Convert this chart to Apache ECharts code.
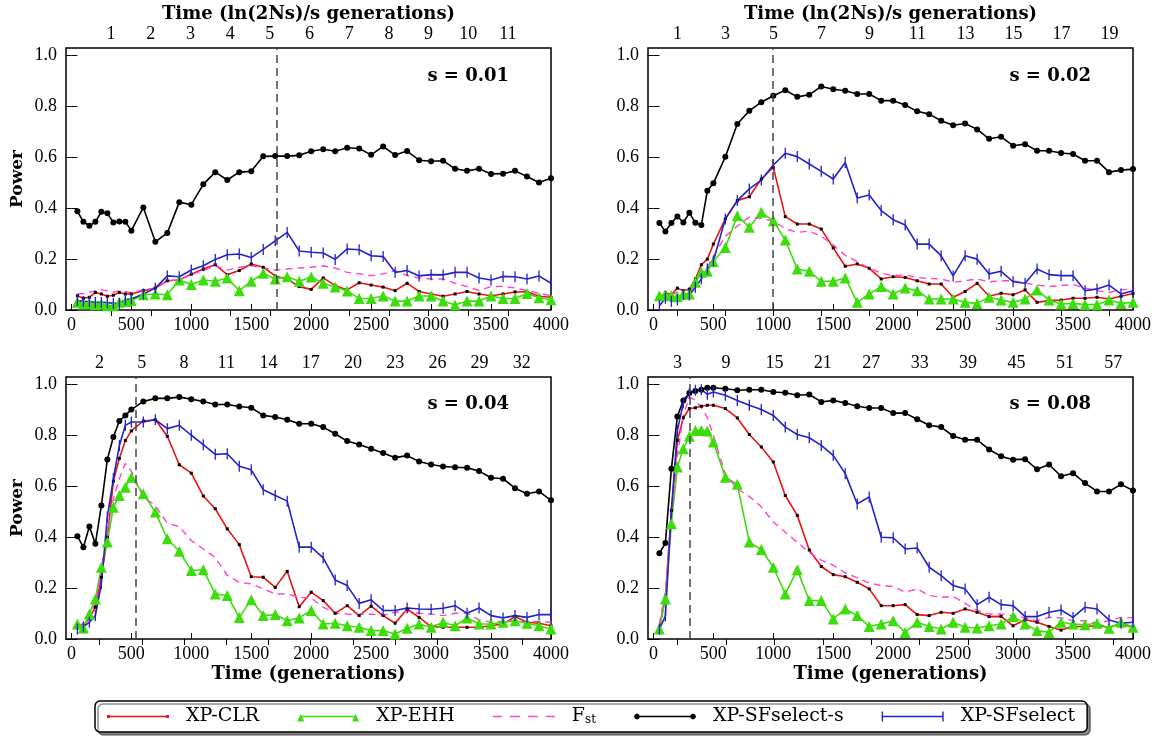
<!DOCTYPE html>
<html>
<head>
<meta charset="utf-8">
<script src="https://cdn.jsdelivr.net/npm/echarts@6/dist/echarts.min.js"></script>
<style>
  html, body { margin: 0; padding: 0; background: #fff; }
  #chart { width: 1161px; height: 740px; }
</style>
</head>
<body>
<div id="chart"></div>
<script>
// generations at which power was measured
var gens = [50, 100, 150, 200, 250, 300, 350, 400, 450, 500,
  600, 700, 800, 900, 1000, 1100, 1200, 1300, 1400, 1500,
  1600, 1700, 1800, 1900, 2000, 2100, 2200, 2300, 2400, 2500,
  2600, 2700, 2800, 2900, 3000, 3100, 3200, 3300, 3400, 3500,
  3600, 3700, 3800, 3900, 4000];

var xTicks = [0, 500, 1000, 1500, 2000, 2500, 3000, 3500, 4000];
var yTicks = [0, 0.2, 0.4, 0.6, 0.8, 1.0];

// s = 0.01
var clrS01 = [0.056,0.046,0.050,0.069,0.063,0.054,0.058,0.069,0.063,0.063, 0.076,0.086,0.115,0.118,0.141,0.161,0.178,0.139,0.155,0.181, 0.168,0.134,0.122,0.092, 0.081,0.126,0.096,0.079,0.107,0.098,0.090,0.076,0.105,0.073, 0.063,0.054,0.063,0.073,0.063,0.056,0.063,0.071,0.072,0.054,0.050];
var ehhS01 = [0.030,0.024,0.026,0.021,0.024,0.017,0.017,0.030,0.033,0.037, 0.060,0.063,0.060,0.118,0.100,0.118,0.113,0.126,0.076,0.113, 0.144,0.122,0.131,0.113, 0.130,0.105,0.090,0.075,0.045,0.045,0.055,0.035,0.035,0.055, 0.055,0.035,0.020,0.035,0.035,0.055,0.045,0.045,0.065,0.048,0.040];
var fstS01 = [0.063,0.065,0.070,0.075,0.080,0.075,0.070,0.075,0.072,0.068, 0.079,0.086,0.115,0.118,0.139,0.155,0.174,0.157,0.168,0.174, 0.165,0.157,0.161,0.165, 0.168,0.174,0.165,0.148,0.142,0.135,0.142,0.155,0.135,0.126, 0.122,0.122,0.105,0.092,0.076,0.092,0.093,0.087,0.076,0.066,0.057];
var sfsS01 = [0.388,0.347,0.331,0.347,0.386,0.380,0.344,0.348,0.347,0.312, 0.403,0.268,0.303,0.424,0.414,0.494,0.542,0.511,0.542,0.545, 0.604,0.605,0.605,0.608, 0.624,0.632,0.624,0.638,0.635,0.610,0.643,0.609,0.625,0.589, 0.585,0.587,0.555,0.547,0.555,0.535,0.536,0.547,0.525,0.501,0.518];
var sfS01 = [0.037,0.034,0.033,0.030,0.030,0.029,0.026,0.026,0.041,0.043, 0.063,0.086,0.134,0.131,0.157,0.174,0.199,0.217,0.220,0.206, 0.238,0.272,0.305,0.232, 0.227,0.224,0.199,0.240,0.237,0.213,0.210,0.148,0.155,0.134, 0.139,0.138,0.148,0.148,0.126,0.118,0.132,0.131,0.122,0.134,0.105];

// s = 0.02
var clrS02 = [0.047,0.069,0.060,0.086,0.076,0.082,0.122,0.178,0.200,0.259, 0.358,0.430,0.445,0.515,0.561,0.367,0.338,0.338,0.318,0.244, 0.172,0.181,0.164,0.122, 0.131,0.128,0.115,0.102,0.102,0.050,0.073,0.105,0.054,0.066, 0.060,0.079,0.030,0.037,0.039,0.046,0.046,0.050,0.043,0.054,0.065];
var ehhS02 = [0.056,0.060,0.056,0.052,0.063,0.063,0.109,0.148,0.152,0.191, 0.246,0.371,0.325,0.384,0.351,0.275,0.161,0.152,0.113,0.113, 0.126,0.030,0.063,0.092, 0.063,0.086,0.076,0.043,0.043,0.043,0.030,0.026,0.050,0.039, 0.030,0.043,0.079,0.039,0.024,0.026,0.021,0.021,0.039,0.026,0.030];
var fstS02 = [0.050,0.055,0.060,0.070,0.075,0.080,0.100,0.140,0.170,0.210, 0.290,0.330,0.365,0.360,0.350,0.320,0.305,0.310,0.290,0.255, 0.215,0.190,0.165,0.145, 0.135,0.138,0.128,0.124,0.122,0.109,0.115,0.122,0.111,0.115, 0.115,0.105,0.098,0.092,0.096,0.100,0.086,0.076,0.069,0.079,0.083];
var sfsS02 = [0.342,0.309,0.342,0.368,0.344,0.382,0.343,0.334,0.469,0.498, 0.602,0.731,0.783,0.817,0.842,0.864,0.838,0.846,0.879,0.868, 0.862,0.849,0.849,0.823, 0.823,0.806,0.781,0.770,0.744,0.726,0.733,0.710,0.673,0.681, 0.646,0.652,0.626,0.626,0.617,0.613,0.587,0.587,0.542,0.550,0.554];
var sfS02 = [0.017,0.046,0.034,0.039,0.060,0.059,0.089,0.122,0.161,0.193, 0.358,0.430,0.476,0.511,0.570,0.616,0.603,0.574,0.545,0.515, 0.580,0.440,0.452,0.391, 0.355,0.334,0.259,0.259,0.213,0.134,0.213,0.200,0.142,0.152, 0.111,0.105,0.161,0.139,0.135,0.135,0.076,0.083,0.098,0.063,0.076];

// s = 0.04
var clrS04 = [0.043,0.052,0.083,0.125,0.243,0.400,0.620,0.710,0.780,0.818, 0.857,0.862,0.797,0.685,0.652,0.562,0.512,0.433,0.371,0.245, 0.243,0.203,0.266,0.127, 0.184,0.151,0.101,0.131,0.092,0.129,0.092,0.062,0.118,0.085, 0.049,0.046,0.046,0.046,0.046,0.052,0.059,0.088,0.066,0.062,0.052];
var ehhS04 = [0.059,0.043,0.098,0.157,0.282,0.381,0.518,0.564,0.597,0.636, 0.571,0.499,0.394,0.345,0.269,0.272,0.177,0.171,0.085,0.154, 0.092,0.096,0.072,0.083, 0.112,0.059,0.062,0.052,0.046,0.033,0.033,0.020,0.042,0.059, 0.046,0.066,0.052,0.083,0.059,0.059,0.066,0.072,0.062,0.052,0.039];
var fstS04 = [0.053,0.060,0.090,0.140,0.270,0.420,0.550,0.630,0.690,0.660, 0.558,0.525,0.455,0.442,0.387,0.354,0.320,0.250,0.223,0.217, 0.197,0.177,0.177,0.164, 0.161,0.125,0.101,0.098,0.096,0.098,0.092,0.105,0.109,0.101, 0.098,0.092,0.101,0.101,0.075,0.066,0.070,0.072,0.066,0.070,0.066];
var sfsS04 = [0.404,0.361,0.442,0.374,0.525,0.706,0.794,0.857,0.879,0.902, 0.934,0.946,0.946,0.951,0.943,0.934,0.922,0.922,0.914,0.909, 0.879,0.873,0.862,0.846, 0.846,0.833,0.807,0.778,0.765,0.748,0.731,0.713,0.721,0.698, 0.686,0.678,0.675,0.673,0.660,0.634,0.630,0.593,0.571,0.580,0.545];
var sfS04 = [0.039,0.048,0.066,0.092,0.217,0.480,0.630,0.760,0.840,0.853, 0.853,0.862,0.827,0.840,0.801,0.764,0.726,0.728,0.679,0.665, 0.587,0.564,0.542,0.361, 0.361,0.319,0.232,0.210,0.140,0.154,0.112,0.112,0.122,0.118, 0.117,0.121,0.131,0.101,0.122,0.092,0.083,0.092,0.085,0.096,0.096];

// s = 0.08
var clrS08 = [0.046,0.164,0.505,0.781,0.870,0.906,0.909,0.915,0.919,0.919, 0.906,0.869,0.804,0.755,0.696,0.564,0.486,0.350,0.285,0.253, 0.245,0.223,0.197,0.131, 0.131,0.135,0.096,0.092,0.105,0.101,0.118,0.105,0.088,0.089, 0.052,0.076,0.066,0.049,0.035,0.049,0.049,0.052,0.046,0.059,0.046];
var ehhS08 = [0.039,0.157,0.453,0.676,0.748,0.797,0.820,0.820,0.818,0.774, 0.636,0.608,0.381,0.352,0.282,0.177,0.272,0.151,0.151,0.079, 0.118,0.092,0.049,0.059, 0.072,0.026,0.066,0.049,0.039,0.066,0.046,0.043,0.052,0.059, 0.088,0.059,0.033,0.026,0.066,0.059,0.056,0.062,0.042,0.066,0.046];
var fstS08 = [0.059,0.190,0.480,0.720,0.880,0.950,0.940,0.910,0.870,0.800, 0.650,0.590,0.560,0.520,0.460,0.420,0.380,0.340,0.310,0.290, 0.260,0.240,0.220,0.210, 0.206,0.184,0.197,0.171,0.164,0.167,0.140,0.112,0.098,0.098, 0.092,0.083,0.072,0.085,0.083,0.072,0.072,0.062,0.072,0.085,0.083];
var sfsS08 = [0.337,0.377,0.669,0.875,0.938,0.967,0.975,0.980,0.988,0.988, 0.984,0.978,0.980,0.980,0.971,0.968,0.958,0.961,0.932,0.938, 0.928,0.915,0.908,0.908, 0.888,0.888,0.864,0.840,0.833,0.798,0.783,0.783,0.745,0.718, 0.705,0.707,0.667,0.686,0.640,0.652,0.613,0.580,0.580,0.608,0.584];
var sfS08 = [0.039,0.090,0.500,0.820,0.928,0.965,0.978,0.980,0.962,0.971, 0.958,0.938,0.919,0.902,0.879,0.833,0.804,0.791,0.761,0.722, 0.650,0.531,0.558,0.400, 0.398,0.354,0.358,0.282,0.249,0.210,0.197,0.135,0.164,0.135, 0.131,0.088,0.088,0.105,0.114,0.085,0.125,0.118,0.075,0.062,0.066];

// top axis: multiples of ln(2Ns)/s generations
var sLabels = ['0.01', '0.02', '0.04', '0.08'];
var topUnit = [331, 200.2, 117.4, 67.3];
var topTicks = [
  [1, 2, 3, 4, 5, 6, 7, 8, 9, 10, 11],
  [1, 3, 5, 7, 9, 11, 13, 15, 17, 19],
  [2, 5, 8, 11, 14, 17, 20, 23, 26, 29, 32],
  [3, 9, 15, 21, 27, 33, 39, 45, 51, 57]
];
var dashedAt = [1710, 995, 540, 305];

var panelData = [
  [clrS01, ehhS01, fstS01, sfsS01, sfS01],
  [clrS02, ehhS02, fstS02, sfsS02, sfS02],
  [clrS04, ehhS04, fstS04, sfsS04, sfS04],
  [clrS08, ehhS08, fstS08, sfsS08, sfS08]
];
var names = ['XP-CLR', 'XP-EHH', 'Fst', 'XP-SFselect-s', 'XP-SFselect'];

var RED = '#ee1111', GREEN = '#3ddc0c', PINK = '#ff44cc', BLUE = '#2323c8';
var serif = 'Liberation Serif';
var bold = 'DejaVu Serif';

var grids = [
  {left: 66, top: 48, width: 485, height: 262},
  {left: 648, top: 48, width: 485, height: 262},
  {left: 66, top: 377, width: 485, height: 262},
  {left: 648, top: 377, width: 485, height: 262}
];

function pairs(arr) {
  return arr.map(function (v, i) { return [gens[i], v]; });
}

var xAxes = [], yAxes = [], series = [], titles = [];
grids.forEach(function (g, p) {
  g.show = true;
  g.borderColor = '#000';
  g.borderWidth = 1.5;
  g.containLabel = false;
  var isTop = p < 2, isLeft = p % 2 === 0;
  var T = topUnit[p];
  var topVals = topTicks[p].map(function (k) { return k * T; });

  xAxes.push({
    type: 'value', gridIndex: p, position: 'bottom', min: -45, max: 4000,
    axisLine: {show: false}, splitLine: {show: false},
    axisTick: {inside: true, length: 6, customValues: xTicks, lineStyle: {color: '#000'}},
    axisLabel: {customValues: xTicks, fontFamily: serif, fontSize: 18, color: '#000', margin: 6,
      formatter: function (v) { return String(v); }},
    name: isTop ? '' : 'Time (generations)', nameLocation: 'middle', nameGap: 26,
    nameTextStyle: {fontFamily: bold, fontWeight: 'bold', fontSize: 18, color: '#000'}
  });
  xAxes.push({
    type: 'value', gridIndex: p, position: 'top', min: -45, max: 4000,
    axisLine: {show: false}, splitLine: {show: false},
    axisTick: {inside: true, length: 6, customValues: topVals, lineStyle: {color: '#000'}},
    axisLabel: {customValues: topVals, fontFamily: serif, fontSize: 18, color: '#000', margin: 5,
      formatter: function (v) { return String(Math.round(v / T)); }},
    name: isTop ? 'Time (ln(2Ns)/s generations)' : '', nameLocation: 'middle', nameGap: 25,
    nameTextStyle: {fontFamily: bold, fontWeight: 'bold', fontSize: 18, color: '#000'}
  });
  yAxes.push({
    type: 'value', gridIndex: p, position: 'left', min: 0, max: 1.03,
    axisLine: {show: false}, splitLine: {show: false},
    axisTick: {inside: true, length: 6, customValues: yTicks, lineStyle: {color: '#000'}},
    axisLabel: {customValues: yTicks, fontFamily: serif, fontSize: 18, color: '#000', margin: 9,
      formatter: function (v) { return v.toFixed(1); }},
    name: isLeft ? 'Power' : '', nameLocation: 'middle', nameGap: 40, nameRotate: 90,
    nameTextStyle: {fontFamily: bold, fontWeight: 'bold', fontSize: 17, color: '#000'}
  });
  yAxes.push({
    type: 'value', gridIndex: p, position: 'right', min: 0, max: 1.03,
    axisLine: {show: false}, splitLine: {show: false},
    axisTick: {inside: true, length: 6, customValues: yTicks, lineStyle: {color: '#000'}},
    axisLabel: {show: false}
  });

  titles.push({
    text: 's = ' + sLabels[p],
    right: isLeft ? 652 : 70, top: isTop ? 67 : 395, padding: 0,
    textStyle: {fontFamily: bold, fontWeight: 'bold', fontSize: 18, color: '#000'}
  });

  var d = panelData[p];
  var base = {type: 'line', xAxisIndex: 2 * p, yAxisIndex: 2 * p, silent: true};
  series.push(Object.assign({}, base, {
    name: names[0], data: pairs(d[0]), symbol: 'rect', symbolSize: 3,
    lineStyle: {color: RED, width: 1.6}, itemStyle: {color: '#000'},
    markLine: {silent: true, symbol: 'none', label: {show: false},
      lineStyle: {color: '#444', type: [8, 5], width: 1.5},
      data: [{xAxis: dashedAt[p]}]}
  }));
  series.push(Object.assign({}, base, {
    name: names[1], data: pairs(d[1]), symbol: 'triangle', symbolSize: 11,
    lineStyle: {color: GREEN, width: 1.6}, itemStyle: {color: GREEN}
  }));
  series.push(Object.assign({}, base, {
    name: names[2], data: pairs(d[2]), symbol: 'none',
    lineStyle: {color: PINK, width: 1.4, type: [7, 5]}, itemStyle: {color: PINK}
  }));
  series.push(Object.assign({}, base, {
    name: names[3], data: pairs(d[3]), symbol: 'circle', symbolSize: 6,
    lineStyle: {color: '#000', width: 1.6}, itemStyle: {color: '#000'}
  }));
  series.push(Object.assign({}, base, {
    name: names[4], data: pairs(d[4]), symbol: 'rect', symbolSize: [1.3, 11],
    lineStyle: {color: BLUE, width: 1.6}, itemStyle: {color: BLUE}
  }));
});

// legend icons (62 x 10 box), corners pin the bounding box
var pin = 'M0,0L0.01,0L0,0.01Z M62,10L61.99,10L62,9.99Z ';
var icons = {
  'XP-CLR': pin + 'M0,4.3h62v1.4h-62z M0,3.6h2.8v2.8h-2.8z M59.2,3.6h2.8v2.8h-2.8z',
  'XP-EHH': pin + 'M3,4.3h56v1.4h-56z M0,10L3.5,2.5L7,10Z M55,10L58.5,2.5L62,10Z',
  'Fst': pin + 'M0,4.3h9v1.4h-9z M17,4.3h10v1.4h-10z M35,4.3h10v1.4h-10z M53,4.3h9v1.4h-9z',
  'XP-SFselect-s': pin + 'M2,4.3h58v1.4h-58z M0,5L0.9,2.9L3,2L5.1,2.9L6,5L5.1,7.1L3,8L0.9,7.1Z M56,5L56.9,2.9L59,2L61.1,2.9L62,5L61.1,7.1L59,8L56.9,7.1Z',
  'XP-SFselect': pin + 'M0,4.3h62v1.4h-62z M0,0h1.4v10h-1.4z M60.6,0h1.4v10h-1.4z'
};
var legendColors = [RED, GREEN, PINK, '#000', BLUE];

var option = {
  animation: false,
  backgroundColor: '#fff',
  title: titles,
  grid: grids,
  xAxis: xAxes,
  yAxis: yAxes,
  series: series,
  legend: {
    left: 95, top: 701,
    padding: [6, 12], itemGap: 38, itemWidth: 62, itemHeight: 10,
    backgroundColor: '#fff', borderColor: '#000', borderWidth: 1.5, borderRadius: 5,
    shadowColor: 'rgba(0,0,0,0.45)', shadowOffsetX: 3, shadowOffsetY: 3, shadowBlur: 0,
    data: names.map(function (n, i) {
      return {name: n, icon: 'path://' + icons[n], itemStyle: {color: legendColors[i], borderWidth: 0}};
    }),
    formatter: function (n) { return n === 'Fst' ? '{f|F}{s|st}' : n; },
    textStyle: {
      fontFamily: 'DejaVu Serif', fontSize: 19, color: '#000', padding: [0, 0, 0, 12],
      rich: {
        f: {fontFamily: 'DejaVu Serif', fontSize: 19, color: '#000'},
        s: {fontFamily: 'DejaVu Serif', fontSize: 12, color: '#000', padding: [7, 0, 0, 0]}
      }
    }
  }
};

var chart = echarts.init(document.getElementById('chart'));
chart.setOption(option);
</script>
</body>
</html>
